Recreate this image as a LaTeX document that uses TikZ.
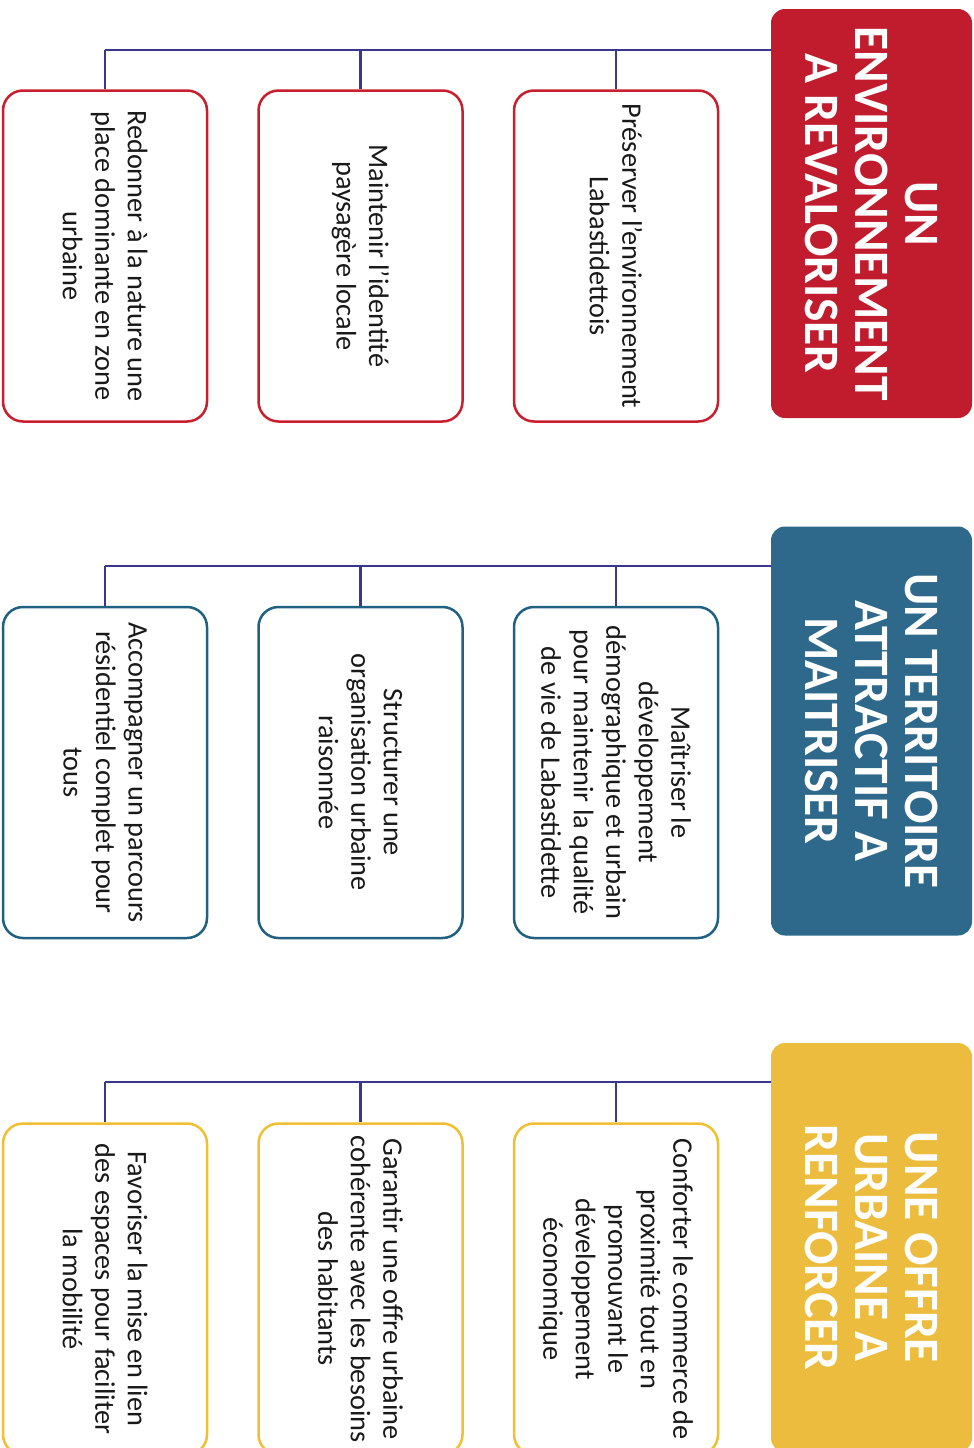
\documentclass[tikz,border=0pt]{standalone}
\usepackage{fontspec}
\setmainfont{Carlito}
\definecolor{hred}{RGB}{192,28,45}
\definecolor{hblue}{RGB}{46,104,138}
\definecolor{hyel}{RGB}{236,188,62}
\definecolor{bred}{RGB}{200,30,45}
\definecolor{bblue}{RGB}{32,96,130}
\definecolor{byel}{RGB}{240,192,52}
\definecolor{connc}{RGB}{58,56,140}
\definecolor{textc}{RGB}{25,25,25}
\begin{document}
\begin{tikzpicture}[x=1pt,y=1pt,
  hdr/.style={rotate=-90, rounded corners=14pt, minimum width=409pt, minimum height=201pt,
    text=white, font=\fontsize{49.5}{50}\selectfont\bfseries, align=center, inner sep=0pt},
  child/.style={rotate=-90, draw, line width=2.5pt, rounded corners=20pt, fill=white,
    minimum width=331pt, minimum height=204pt, align=center,
    font=\fontsize{28.3}{32.5}\selectfont, text=textc, inner sep=0pt},
  conn/.style={draw=connc, line width=2.8pt}]
\path[use as bounding box] (0,0) rectangle (974,-1448);
\clip (0,0) rectangle (974,-1448);

% headers
\node[hdr, fill=hred]  (hR) at (871.5,-213.5) {UN\\ENVIRONNEMENT\\A REVALORISER};
\node[hdr, fill=hblue] (hB) at (871.5,-731) {UN TERRITOIRE\\ATTRACTIF A\\MAITRISER};
\node[hdr, fill=hyel]  (hY) at (871.5,-1247.5) {UNE OFFRE\\URBAINE A\\RENFORCER};

% children
\node[child, draw=bred] (r1) at (616,-256) {Préserver l’environnement\\Labastidettois};
\node[child, draw=bred] (r2) at (360.5,-256) {Maintenir l’identité\\paysagère locale};
\node[child, draw=bred] (r3) at (105,-256) {Redonner à la nature une\\place dominante en zone\\urbaine};

\node[child, draw=bblue] (b1) at (616,-772.5) {Maîtriser le\\développement\\démographique et urbain\\pour maintenir la qualité\\de vie de Labastidette};
\node[child, draw=bblue] (b2) at (360.5,-772.5) {Structurer une\\organisation urbaine\\raisonnée};
\node[child, draw=bblue] (b3) at (105,-772.5) {Accompagner un parcours\\résidentiel complet pour\\tous};

\node[child, draw=byel] (y1) at (616,-1289) {Conforter le commerce de\\proximité tout en\\promouvant le\\développement\\économique};
\node[child, draw=byel] (y2) at (360.5,-1289) {Garantir une offre urbaine\\cohérente avec les besoins\\des habitants};
\node[child, draw=byel] (y3) at (105,-1289) {Favoriser la mise en lien\\des espaces pour faciliter\\la mobilité};

% buses
\coordinate (busR) at (0,-50);
\coordinate (busB) at (0,-566);
\coordinate (busY) at (0,-1082);

\draw[conn] (hR.south west |- busR) -- (r3.west |- busR);
\draw[conn] (r1.west |- busR) -- (r1.west);
\draw[conn] (r2.west |- busR) -- (r2.west);
\draw[conn] (r3.west |- busR) -- (r3.west);

\draw[conn] (hB.south west |- busB) -- (b3.west |- busB);
\draw[conn] (b1.west |- busB) -- (b1.west);
\draw[conn] (b2.west |- busB) -- (b2.west);
\draw[conn] (b3.west |- busB) -- (b3.west);

\draw[conn] (hY.south west |- busY) -- (y3.west |- busY);
\draw[conn] (y1.west |- busY) -- (y1.west);
\draw[conn] (y2.west |- busY) -- (y2.west);
\draw[conn] (y3.west |- busY) -- (y3.west);
\end{tikzpicture}
\end{document}
